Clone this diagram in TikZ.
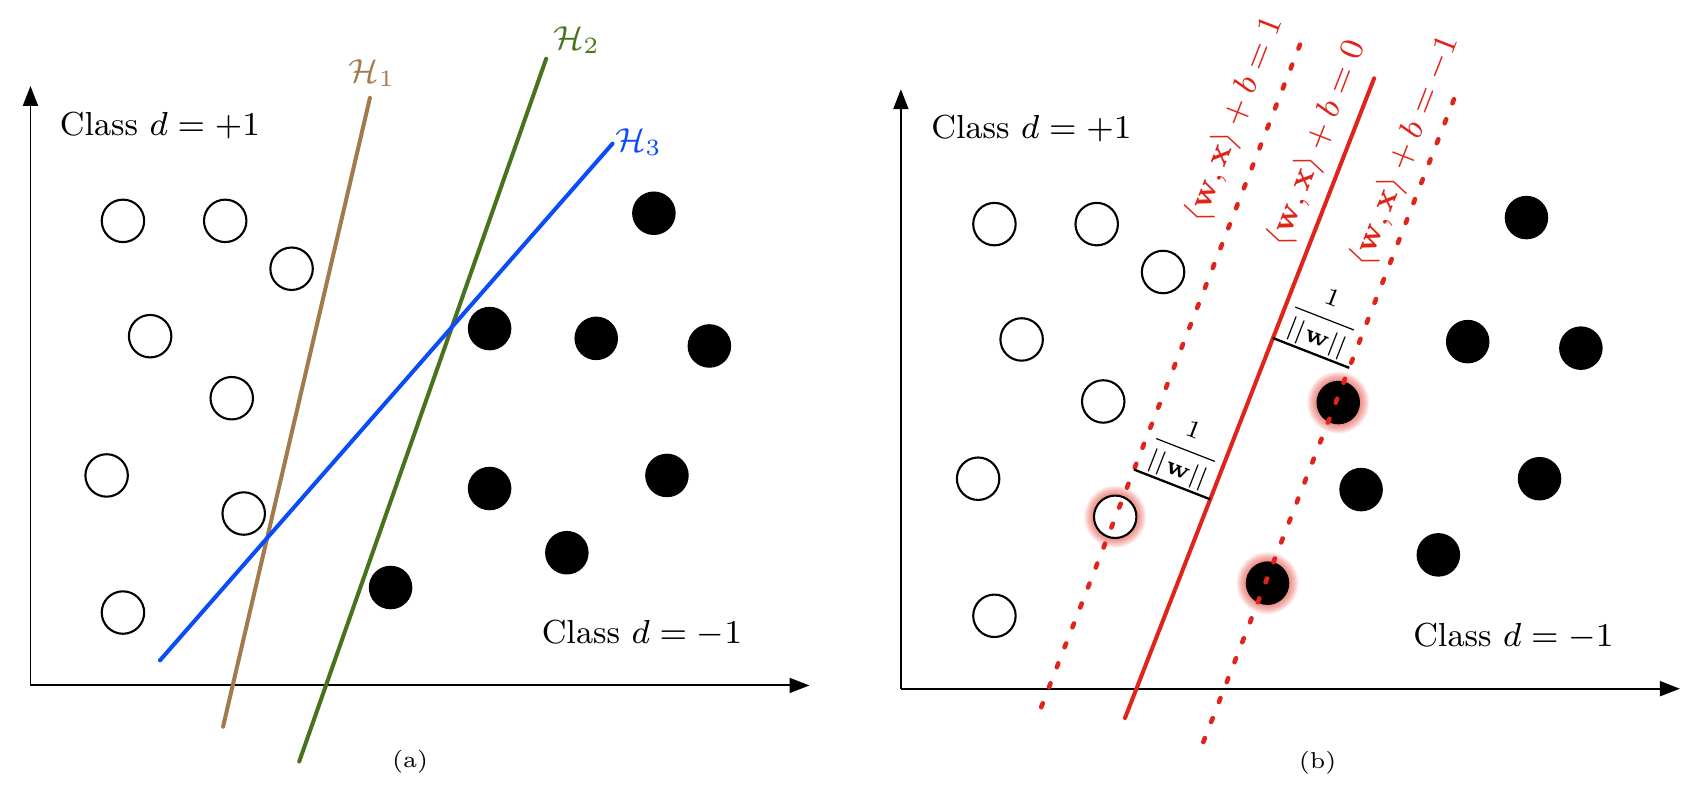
\RequirePackage{fix-cm}
\documentclass[tikz,border=0pt]{standalone}
\usepackage{amsmath,amssymb}
\usepackage{tikz}
\usetikzlibrary{arrows.meta,calc}

\definecolor{hbrown}{RGB}{163,122,76}
\definecolor{hgreen}{RGB}{72,115,28}
\definecolor{hblue}{RGB}{10,76,250}
\definecolor{svmred}{RGB}{224,36,26}

\begin{document}
\begin{tikzpicture}[
  x=0.01cm, y=0.01cm,
  font=\fontsize{8.7}{10.4}\selectfont,
  axis/.style={line width=0.5pt, -{Triangle[length=5.2pt,width=3.9pt]}},
  opendot/.style={circle, draw, line width=0.55pt, fill=white, minimum size=0.39cm, inner sep=0pt},
  fulldot/.style={circle, fill=black, minimum size=0.40cm, inner sep=0pt},
  hyp/.style={line width=1.05pt, line cap=round},
  bound/.style={hyp, svmred, line width=1.2pt, dash pattern=on 1.1pt off 4.5pt},
  margin/.style={line width=0.6pt},
  eqlabel/.style={text=svmred, rotate=68.7},
  caption/.style={font=\fontsize{6}{7}\selectfont}
]
\useasboundingbox (0,0) rectangle (1568,733);

% (a) several separating hyperplanes
\coordinate (oa) at (28,103);
\coordinate (ya) at (28,654);
\coordinate (xa) at (744,103);
\draw[axis] (oa) -- (ya);
\draw[axis] (oa) -- (xa);
\node (clpa) at (147,618) {Class $d=+1$};
\node (clma) at (590,151) {Class $d=-1$};
\foreach \x/\y [count=\i] in {113/530,207/530,268/486,138/424,213/367,98/296,224/261,113/170}
  \node[opendot] (pa\i) at (\x,\y) {};
\foreach \x/\y [count=\i] in {601/537,450/431,548/422,652/415,450/284,613/296,521/225,359/193}
  \node[fulldot] (na\i) at (\x,\y) {};
\coordinate (h1s) at (205,65);  \coordinate (h1e) at (340,643);
\coordinate (h2s) at (275,33);  \coordinate (h2e) at (502,679);
\coordinate (h3s) at (147,126); \coordinate (h3e) at (563,601);
\draw[hyp, hbrown] (h1s) -- (h1e);
\draw[hyp, hgreen] (h2s) -- (h2e);
\draw[hyp, hblue] (h3s) -- (h3e);
\node[text=hbrown] (lh1) at (342,666) {$\mathcal{H}_1$};
\node[text=hgreen] (lh2) at (530,696) {$\mathcal{H}_2$};
\node[text=hblue] (lh3) at (587,602) {$\mathcal{H}_3$};
\node[caption] (capa) at (377,33) {(a)};

% (b) maximum margin hyperplane
\begin{scope}[shift={(801,-3)}]
\coordinate (ob) at (27,103);
\coordinate (yb) at (27,654);
\coordinate (xb) at (743,103);
\draw[axis] (ob) -- (yb);
\draw[axis] (ob) -- (xb);
\node (clpb) at (147,618) {Class $d=+1$};
\node (clmb) at (590,151) {Class $d=-1$};
% glow of the support vectors
\foreach \x/\y in {224/261,429/366,364/200}
  \foreach \g in {9,...,1}
    \fill[svmred, opacity=0.08] (\x,\y) circle ({19.5+\g});
\foreach \x/\y [count=\i] in {113/530,207/530,268/486,138/424,213/367,98/296,224/261,113/170}
  \node[opendot] (pb\i) at (\x,\y) {};
\foreach \x/\y [count=\i] in {602/536,548/422,652/416,429/366,450/286,614/296,521/226,364/200}
  \node[fulldot] (nb\i) at (\x,\y) {};
\coordinate (l0) at (156,86);  \coordinate (l1) at (395,698);
\coordinate (s0) at (233,76);  \coordinate (s1) at (462,664);
\coordinate (r0) at (305,54);  \coordinate (r1) at (537,649);
\draw[bound] (l0) -- (l1);
\draw[hyp, svmred] (s0) -- (s1);
\draw[bound] (r0) -- (r1);
\node[eqlabel] (eqp) at (334,626) {$\langle\mathbf{w},\mathbf{x}\rangle+b=1$};
\node[eqlabel] (eqz) at (410,604) {$\langle\mathbf{w},\mathbf{x}\rangle+b=0$};
\node[eqlabel] (eqm) at (491,597) {$\langle\mathbf{w},\mathbf{x}\rangle+b=-1$};
% margins
\coordinate (m1) at ($(s0)!0.342!(s1)$);
\coordinate (m1p) at ($(l0)!(m1)!(l1)$);
\coordinate (m2) at ($(s0)!0.594!(s1)$);
\coordinate (m2p) at ($(r0)!(m2)!(r1)$);
\draw[margin] (m1p) -- (m1) node[midway, sloped, above, inner sep=0.5pt, font=\fontsize{6.5}{7}\selectfont] {$\displaystyle\frac{1}{||\mathbf{w}||}$};
\draw[margin] (m2) -- (m2p) node[midway, sloped, above, inner sep=0.5pt, font=\fontsize{6.5}{7}\selectfont] {$\displaystyle\frac{1}{||\mathbf{w}||}$};
\node[caption] (capb) at (410,35) {(b)};
\end{scope}
\end{tikzpicture}
\end{document}
